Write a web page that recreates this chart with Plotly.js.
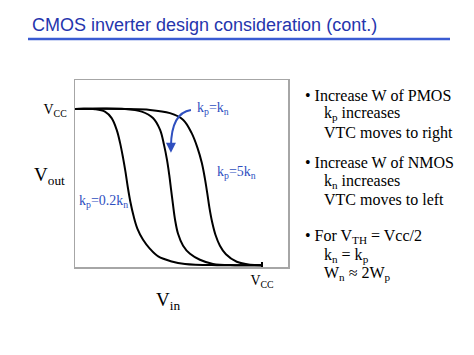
<!DOCTYPE html>
<html>
<head>
<meta charset="utf-8">
<script src="https://cdn.plot.ly/plotly-3.0.1.min.js"></script>
<style>
  html, body { margin: 0; padding: 0; background: #ffffff; }
  #chart { width: 474px; height: 355px; }
</style>
</head>
<body>
<div id="chart"></div>
<script>
// Curve data (Vin and Vout as fractions of Vcc)
const vinWeakP = [0, 0.107, 0.160, 0.196, 0.223, 0.241, 0.257, 0.270, 0.282, 0.296, 0.313, 0.334, 0.364, 0.401, 0.445, 0.517, 0.588, 0.759, 1.0];
const voutWeakP = [1, 0.998, 0.983, 0.941, 0.866, 0.783, 0.687, 0.597, 0.502, 0.406, 0.316, 0.233, 0.163, 0.105, 0.056, 0.024, 0.008, 0, 0];

const vinEqual = [0, 0.267, 0.357, 0.417, 0.455, 0.476, 0.492, 0.504, 0.514, 0.524, 0.535, 0.551, 0.578, 0.615, 0.668, 0.738, 0.856, 1.0];
const voutEqual = [1, 1, 0.983, 0.942, 0.866, 0.770, 0.674, 0.578, 0.482, 0.387, 0.291, 0.201, 0.125, 0.073, 0.035, 0.008, 0, 0];

const vinStrongP = [0, 0.401, 0.508, 0.579, 0.624, 0.655, 0.678, 0.694, 0.707, 0.719, 0.733, 0.751, 0.775, 0.807, 0.865, 0.936, 1.0];
const voutStrongP = [1, 0.994, 0.973, 0.930, 0.845, 0.751, 0.655, 0.559, 0.463, 0.367, 0.278, 0.195, 0.125, 0.070, 0.022, 0.003, 0];

const curveLabels = ["k<sub>p</sub>=0.2k<sub>n</sub>", "k<sub>p</sub>=k<sub>n</sub>", "k<sub>p</sub>=5k<sub>n</sub>"];
const xTickVals = [1];
const xTickText = ["V<sub>CC</sub>"];
const yTickVals = [1];
const yTickText = ["V<sub>CC</sub>"];

const bulletLines = [
  "• Increase W of PMOS",
  "k<sub>p</sub> increases",
  "VTC moves to right",
  "• Increase W of NMOS",
  "k<sub>n</sub> increases",
  "VTC moves to left",
  "• For V<sub>TH</sub> = Vcc/2",
  "k<sub>n</sub> = k<sub>p</sub>",
  "W<sub>n</sub> ≈ 2W<sub>p</sub>"
];

const serif = "Liberation Serif, Times New Roman, serif";
const blue = "#2f4fbf";

// plot area geometry (pixels) for paper-coordinate helpers
const L = 75, R = 288, T = 80, B = 267.3, W = 474, H = 355;
const px = v => (v - L) / (R - L);
const py = v => (B - v) / (B - T);

const lineStyle = {color: "#000000", width: 2, shape: "spline", smoothing: 1};
const traces = [
  {x: vinWeakP, y: voutWeakP, name: curveLabels[0], mode: "lines", line: lineStyle, hoverinfo: "skip"},
  {x: vinEqual, y: voutEqual, name: curveLabels[1], mode: "lines", line: lineStyle, hoverinfo: "skip"},
  {x: vinStrongP, y: voutStrongP, name: curveLabels[2], mode: "lines", line: lineStyle, hoverinfo: "skip"}
];

const bulletX = [303, 322, 322, 303, 322, 322, 303, 322, 322];
const bulletY = [96, 114, 133, 162.5, 182, 200, 237, 256, 273.5];

const annotations = [];
bulletLines.forEach((t, i) => {
  annotations.push({
    xref: "paper", yref: "paper", x: px(bulletX[i]), y: py(bulletY[i]),
    xanchor: "left", yanchor: "middle", showarrow: false, text: t,
    font: {family: serif, size: 16, color: "#000000"}
  });
});

// curve labels
const labelPos = [[76.5, 202], [195, 109], [215, 173]];
curveLabels.forEach((t, i) => {
  annotations.push({
    xref: "paper", yref: "paper", x: px(labelPos[i][0]), y: py(labelPos[i][1]),
    xanchor: "left", yanchor: "middle", showarrow: false, text: t,
    font: {family: serif, size: 14, color: blue}
  });
});

// axis labels
annotations.push({
  xref: "paper", yref: "paper", x: px(32), y: py(176), xanchor: "left", yanchor: "middle",
  showarrow: false, text: "V<sub>out</sub>", font: {family: serif, size: 19, color: "#000"}
});
annotations.push({
  xref: "paper", yref: "paper", x: px(168), y: py(301), xanchor: "center", yanchor: "middle",
  showarrow: false, text: "V<sub>in</sub>", font: {family: serif, size: 19, color: "#000"}
});

// arrowhead for the curved pointer
annotations.push({
  xref: "x", yref: "y", x: 0.513, y: 0.72, axref: "pixel", ayref: "pixel", ax: 0, ay: -9,
  text: "", showarrow: true, arrowhead: 2, arrowsize: 1, arrowwidth: 2, arrowcolor: blue
});

const layout = {
  width: W, height: H,
  margin: {l: L, r: W - R, t: T, b: H - B, pad: 0},
  paper_bgcolor: "#ffffff", plot_bgcolor: "#ffffff",
  showlegend: false,
  title: {
    text: "CMOS inverter design consideration (cont.)",
    font: {family: "Liberation Sans, Arial, sans-serif", size: 18, color: "#2535ad"},
    xref: "container", yref: "container", x: 32 / W, xanchor: "left",
    y: 1 - 24.5 / H, yanchor: "middle"
  },
  xaxis: {
    range: [0, (R - L) / 187], showgrid: false, zeroline: false,
    showline: true, mirror: true, linecolor: "#a6a6a6", linewidth: 1.5,
    tickvals: xTickVals, ticktext: xTickText, ticks: "inside", ticklen: 5,
    tickwidth: 1.5, tickcolor: "#000000",
    tickfont: {family: serif, size: 14, color: "#000"}, fixedrange: true
  },
  yaxis: {
    range: [-(B - 265.5) / 156.5, (265.5 - T) / 156.5], showgrid: false, zeroline: false,
    showline: true, mirror: true, linecolor: "#a6a6a6", linewidth: 1.5,
    tickvals: yTickVals, ticktext: yTickText, ticks: "", ticklabelstandoff: 4,
    tickfont: {family: serif, size: 14, color: "#000"}, fixedrange: true
  },
  shapes: [
    {type: "line", xref: "paper", yref: "paper", x0: px(28), x1: px(450), y0: py(39), y1: py(39),
     line: {color: "#3a5bd2", width: 2.5}},
    {type: "path", xref: "x", yref: "y",
     path: "M 0.620,0.994 Q 0.515,0.975 0.513,0.76", line: {color: blue, width: 2}}
  ],
  annotations: annotations
};

Plotly.newPlot("chart", traces, layout, {displayModeBar: false, staticPlot: true});
</script>
</body>
</html>
